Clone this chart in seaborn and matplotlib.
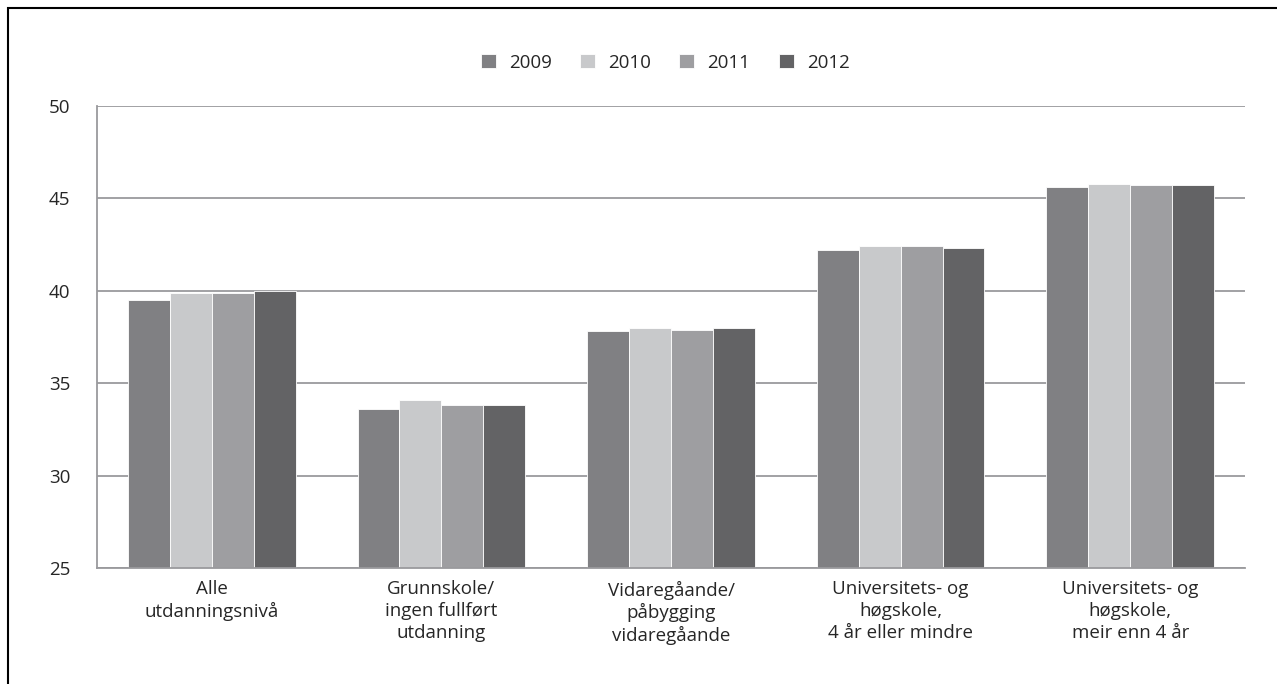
import numpy as np
import matplotlib.pyplot as plt
import pandas as pd
import seaborn as sns
from matplotlib.patches import Rectangle

# Dati
categorie = ['Alle\nutdanningsnivå', 'Grunnskole/\ningen fullført\nutdanning',
             'Vidaregåande/\npåbygging\nvidaregåande', 'Universitets- og\nhøgskole,\n4 år eller mindre',
             'Universitets- og\nhøgskole,\nmeir enn 4 år']
anni = ['2009', '2010', '2011', '2012']
v2009 = [39.5, 33.6, 37.8, 42.2, 45.6]
v2010 = [39.9, 34.1, 38.0, 42.4, 45.8]
v2011 = [39.9, 33.8, 37.9, 42.4, 45.7]
v2012 = [40.0, 33.8, 38.0, 42.3, 45.7]
colori = ['#808083', '#c8c9cb', '#9d9ea1', '#636365']

df = pd.DataFrame({'Categoria': categorie * 4,
                   'Anno': np.repeat(anni, 5),
                   'Valore': v2009 + v2010 + v2011 + v2012})

sns.set_style('white')
plt.rcParams['font.family'] = ['Open Sans', 'DejaVu Sans']

fig = plt.figure(figsize=(12.77, 6.84), dpi=100)
ax = fig.add_axes([97 / 1277, 1 - 568 / 684, (1245 - 97) / 1277, (568 - 106) / 684])

sns.barplot(data=df, x='Categoria', y='Valore', hue='Anno', palette=colori,
            width=0.73, gap=0, linewidth=0.6, edgecolor='white', ax=ax)

ax.set_ylim(25, 50)
ax.set_yticks([25, 30, 35, 40, 45, 50])
ax.set_xlim(-0.5, 4.5)
ax.grid(axis='y', color='#9a9a9d', linewidth=1.3)
ax.set_axisbelow(True)
for s in ['top', 'right']:
    ax.spines[s].set_visible(False)
for s in ['left', 'bottom']:
    ax.spines[s].set_color('#9a9a9d')
    ax.spines[s].set_linewidth(1.3)
ax.set_xlabel('')
ax.set_ylabel('')
ax.tick_params(axis='y', length=7, color='#9a9a9d', width=1.3, labelsize=13.5, pad=12)
ax.tick_params(axis='x', which='major', length=0, labelsize=13.5, pad=9)
for lab in ax.get_xticklabels():
    lab.set_linespacing(1.25)
ax.set_xticks(np.arange(-0.5, 5, 1), minor=True)
ax.tick_params(axis='x', which='minor', length=6, color='#9a9a9d', width=1.3)

ax.legend(loc='upper center', bbox_to_anchor=(0.495, 1.15), ncol=4, frameon=False,
          fontsize=13.5, handlelength=0.8, handleheight=0.8, columnspacing=1.5, handletextpad=0.7)

# Cornice esterna
fig.patches.append(Rectangle((8 / 1277, -0.05), 1.1, 1.05 - 8 / 684, transform=fig.transFigure,
                             fill=False, edgecolor='black', linewidth=1.5))

fig.savefig('out.png', dpi=100)
